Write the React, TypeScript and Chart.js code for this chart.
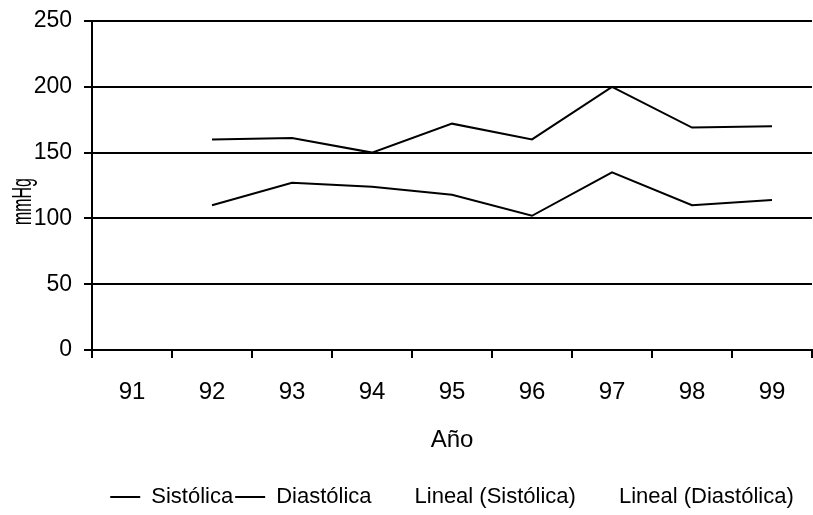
import React, { useEffect, useRef } from 'react';
import { Chart, registerables } from 'chart.js';

Chart.register(...registerables);

// Blood pressure by year (mmHg)
const years = ['91', '92', '93', '94', '95', '96', '97', '98', '99'];
const sistolica = [null, 160, 161, 150, 172, 160, 200, 169, 170];
const diastolica = [null, 110, 127, 124, 118, 102, 135, 110, 114];
const yMin = 0;
const yMax = 250;
const yStep = 50;
const seriesNames = ['Sistólica', 'Diastólica', 'Lineal (Sistólica)', 'Lineal (Diastólica)'];
const yTitle = 'mmHg';
const xTitle = 'Año';

const SANS = "'Liberation Sans', Arial, sans-serif";

// Condensed, rotated y-axis caption
const yTitlePlugin = {
  id: 'yTitleCondensed',
  afterDraw(chart: any) {
    const { ctx, chartArea } = chart;
    ctx.save();
    ctx.font = `28px ${SANS}`;
    ctx.fillStyle = '#000';
    ctx.textAlign = 'center';
    ctx.textBaseline = 'alphabetic';
    const w = ctx.measureText(yTitle).width;
    const cy = (chartArea.top + chartArea.bottom) / 2 + 16;
    ctx.translate(31, cy);
    ctx.rotate(-Math.PI / 2);
    ctx.scale(47 / w, 1);
    ctx.fillText(yTitle, 0, 0);
    ctx.restore();
  },
};

export default function App() {
  const ref = useRef<HTMLCanvasElement | null>(null);

  useEffect(() => {
    document.body.style.margin = '0';
    const canvas = ref.current;
    if (!canvas) return;

    const chart = new Chart(canvas, {
      type: 'line',
      data: {
        labels: years,
        datasets: [
          {
            label: seriesNames[0],
            data: sistolica,
            borderColor: '#000',
            borderWidth: 2,
            pointRadius: 0,
            tension: 0,
            fill: false,
          },
          {
            label: seriesNames[1],
            data: diastolica,
            borderColor: '#000',
            borderWidth: 2,
            pointRadius: 0,
            tension: 0,
            fill: false,
          },
          {
            label: seriesNames[2],
            data: [],
            borderColor: 'rgba(0,0,0,0)',
            pointRadius: 0,
          },
          {
            label: seriesNames[3],
            data: [],
            borderColor: 'rgba(0,0,0,0)',
            pointRadius: 0,
          },
        ],
      },
      options: {
        responsive: false,
        animation: false,
        devicePixelRatio: 1,
        layout: { padding: { top: 21, left: 0, right: 1, bottom: 0 }, autoPadding: false },
        plugins: {
          tooltip: { enabled: false },
          legend: {
            position: 'bottom',
            fullSize: false,
            maxHeight: 31,
            labels: {
              color: '#000',
              font: { family: SANS, size: 22 },
              usePointStyle: true,
              pointStyleWidth: 30,
              padding: 2,
              generateLabels: (c: any) =>
                c.data.datasets.map((ds: any, i: number) => ({
                  text: ds.label,
                  fillStyle: 'rgba(0,0,0,0)',
                  strokeStyle: i < 2 ? '#000' : 'rgba(0,0,0,0)',
                  lineWidth: 2,
                  pointStyle: 'line',
                  hidden: false,
                  datasetIndex: i,
                  fontColor: '#000',
                })),
            },
          },
        },
        scales: {
          x: {
            type: 'category',
            offset: true,
            grid: {
              display: true,
              offset: true,
              drawOnChartArea: false,
              drawTicks: true,
              tickLength: 8,
              color: '#000',
              lineWidth: 2,
            },
            border: { display: true, color: '#000', width: 2 },
            ticks: {
              color: '#000',
              font: { family: SANS, size: 24 },
              padding: 20,
              maxRotation: 0,
              autoSkip: false,
            },
            title: {
              display: true,
              text: xTitle,
              color: '#000',
              font: { family: SANS, size: 24 },
              padding: { top: 0, bottom: 29 },
            },
            afterFit: (scale: any) => {
              scale.height = 134;
            },
          },
          y: {
            min: yMin,
            max: yMax,
            grid: {
              color: '#000',
              lineWidth: 2,
              tickLength: 8,
            },
            border: { display: true, color: '#000', width: 2 },
            ticks: {
              stepSize: yStep,
              color: '#000',
              font: { family: SANS, size: 23 },
              padding: 12,
            },
            afterFit: (scale: any) => {
              scale.width = 92;
              scale.paddingTop = 0;
              scale.paddingBottom = 0;
            },
          },
        },
      },
      plugins: [yTitlePlugin],
    });

    return () => chart.destroy();
  }, []);

  return (
    <div style={{ width: 813, height: 515, background: '#fff' }}>
      <canvas ref={ref} width={813} height={515} style={{ display: 'block', width: 813, height: 515 }} />
    </div>
  );
}
